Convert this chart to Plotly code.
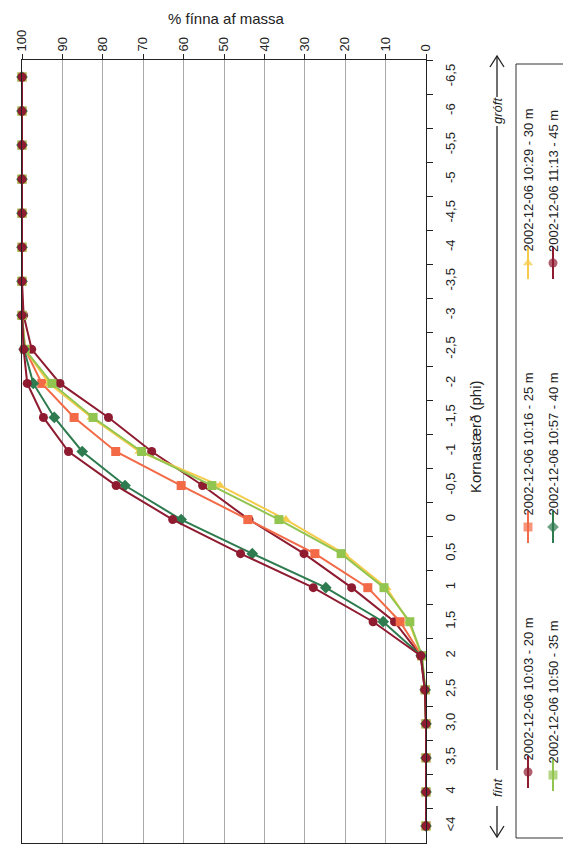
import plotly.graph_objects as go

W, H = 563, 847

phi = ["-6,5", "-6", "-5,5", "-5", "-4,5", "-4", "-3,5", "-3", "-2,5", "-2", "-1,5", "-1",
       "-0,5", "0", "0,5", "1", "1,5", "2", "2,5", "3,0", "3,5", "4", "<4"]

s20 = [100, 100, 100, 100, 100, 100, 100, 99.6, 97.6, 90.6, 78.6, 67.9, 55.3, 43.8, 30.2, 18.4, 7.8, 1.3, 0.3, 0, 0, 0, 0]
s25 = [100, 100, 100, 100, 100, 100, 100, 100, 99.2, 95.1, 87.1, 76.8, 60.6, 44.1, 27.5, 14.4, 6.4, 1.1, 0.2, 0, 0, 0, 0]
s30 = [100, 100, 100, 100, 100, 100, 100, 100, 99.3, 93.3, 82.8, 70.9, 51.0, 34.7, 20.3, 9.8, 4.3, 1.0, 0.2, 0, 0, 0, 0]
s35 = [100, 100, 100, 100, 100, 100, 100, 100, 99.3, 92.6, 82.4, 70.4, 53.0, 36.4, 21.0, 10.4, 4.0, 1.0, 0.2, 0, 0, 0, 0]
s40 = [100, 100, 100, 100, 100, 100, 100, 100, 99.5, 97.2, 92.0, 85.1, 74.5, 60.6, 43.0, 24.8, 10.6, 1.2, 0.2, 0, 0, 0, 0]
s45 = [100, 100, 100, 100, 100, 100, 100, 100, 99.6, 98.7, 94.7, 88.5, 76.7, 62.7, 45.9, 27.9, 13.1, 1.3, 0.3, 0, 0, 0, 0]

names = ["2002-12-06 10:03 - 20 m", "2002-12-06 10:16 - 25 m", "2002-12-06 10:29 - 30 m",
         "2002-12-06 10:50 - 35 m", "2002-12-06 10:57 - 40 m", "2002-12-06 11:13 - 45 m"]
values = [s20, s25, s30, s35, s40, s45]
colors = ["#8E1B2F", "#F26A46", "#F6CB4C", "#92C550", "#2D7B4E", "#8E1B2F"]
symbols = ["circle", "square", "triangle-up", "square", "diamond", "circle"]

FONT = "Arial, Liberation Sans, sans-serif"

fig = go.Figure()
for n, v, c, s in zip(names, values, colors, symbols):
    fig.add_trace(go.Scatter(
        x=v, y=phi, mode="lines+markers", name=n,
        line=dict(color=c, width=2),
        marker=dict(color=c, symbol=s, size=9, line=dict(width=0)),
        xaxis="x", yaxis="y", showlegend=False, cliponaxis=False))

# plot area in pixels
PL, PR, PT, PB = 22, 426, 60, 843

# legend glyphs (pixel overlay axis)
leg_pos = {  # name index -> (x, y)
    2: (528, 263), 1: (528, 527), 0: (528, 772),
    5: (553, 263), 4: (553, 527), 3: (553, 775),
}
for i, (lx, ly) in leg_pos.items():
    fig.add_trace(go.Scatter(
        x=[lx, lx, lx], y=[ly - 16, ly, ly + 16], mode="lines+markers",
        line=dict(color=colors[i], width=2),
        marker=dict(color=colors[i], symbol=symbols[i], size=[0, 9, 0], line=dict(width=0)),
        xaxis="x2", yaxis="y2", showlegend=False, hoverinfo="skip", cliponaxis=False))

annotations = []
for i, (lx, ly) in leg_pos.items():
    annotations.append(dict(
        x=lx, y=ly - 9, xref="x2", yref="y2", text=names[i], textangle=-90,
        showarrow=False, xanchor="center", yanchor="bottom",
        font=dict(family=FONT, size=13, color="#222")))

annotations += [
    dict(x=226, y=18, xref="x2", yref="y2", text="% fínna af massa", showarrow=False,
         xanchor="center", yanchor="middle", font=dict(family=FONT, size=15, color="#222")),
    dict(x=475, y=437, xref="x2", yref="y2", text="Kornastærð (phi)", showarrow=False, textangle=-90,
         xanchor="center", yanchor="middle", font=dict(family=FONT, size=15, color="#222")),
    dict(x=497, y=111, xref="x2", yref="y2", text="<i>gróft</i>", showarrow=False, textangle=-90,
         xanchor="center", yanchor="middle", font=dict(family=FONT, size=13, color="#222")),
    dict(x=497, y=788, xref="x2", yref="y2", text="<i>fínt</i>", showarrow=False, textangle=-90,
         xanchor="center", yanchor="middle", font=dict(family=FONT, size=13, color="#222")),
]

ln = dict(color="#222", width=1.3)
shapes = [
    dict(type="line", xref="x2", yref="y2", x0=497, x1=497, y0=56, y1=97, line=ln),
    dict(type="line", xref="x2", yref="y2", x0=497, x1=497, y0=126, y1=770, line=ln),
    dict(type="line", xref="x2", yref="y2", x0=497, x1=497, y0=806, y1=837, line=ln),
    dict(type="path", xref="x2", yref="y2", path="M 490 67 L 497 56 L 504 67", line=ln),
    dict(type="path", xref="x2", yref="y2", path="M 490 826 L 497 837 L 504 826", line=ln),
    dict(type="rect", xref="x2", yref="y2", x0=516, x1=575, y0=64, y1=838,
         line=dict(color="#333", width=1)),
]

fig.update_layout(
    width=W, height=H,
    margin=dict(l=0, r=0, t=0, b=0),
    paper_bgcolor="white", plot_bgcolor="rgba(0,0,0,0)",
    showlegend=False,
    xaxis=dict(
        domain=[PL / W, PR / W], range=[100, 0], side="top", anchor="y",
        tickmode="array", tickvals=list(range(0, 101, 10)),
        tickangle=-90, ticks="outside", ticklen=5, tickcolor="#222",
        showline=True, linecolor="#222", linewidth=1, mirror=True,
        showgrid=True, gridcolor="#A9A9AD", gridwidth=1, zeroline=False,
        tickfont=dict(family=FONT, size=13, color="#222"), automargin=False),
    yaxis=dict(
        domain=[1 - PB / H, 1 - PT / H], type="category", categoryorder="array",
        categoryarray=phi, range=[len(phi) - 0.5, -0.5], side="right", anchor="x",
        tickangle=-90, ticks="outside", ticklen=6, tickcolor="#222", tickson="boundaries",
        ticklabelstandoff=12,
        showline=True, linecolor="#222", linewidth=1, mirror=True,
        showgrid=False, zeroline=False,
        tickfont=dict(family=FONT, size=13, color="#222"), automargin=False),
    xaxis2=dict(domain=[0, 1], range=[0, W], visible=False, anchor="y2", fixedrange=True),
    yaxis2=dict(domain=[0, 1], range=[H, 0], visible=False, anchor="x2", fixedrange=True),
    annotations=annotations, shapes=shapes,
)

fig.write_html("out.html")
